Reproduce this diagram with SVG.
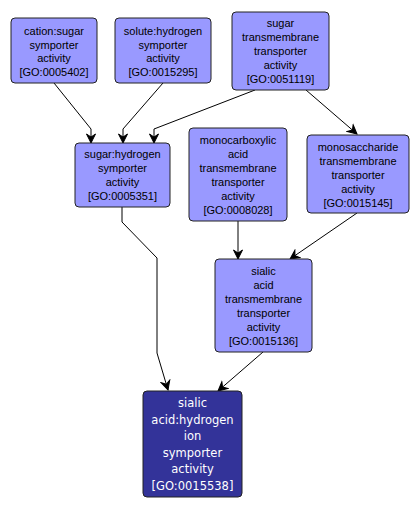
<svg xmlns="http://www.w3.org/2000/svg" width="419" height="509" viewBox="0 0 419 509">
<style>
.n rect{fill:#9999ff;stroke:#222;stroke-width:1}
.n text{font-family:"Liberation Sans",Arial,sans-serif;font-size:11px;fill:#000;text-anchor:middle}
.d rect{fill:#333399;stroke:#222;stroke-width:1}
.d text{font-family:"DejaVu Sans",sans-serif;font-size:11.5px;fill:#fff;text-anchor:middle}
.e path{fill:none;stroke:#000;stroke-width:1;marker-end:url(#a)}
</style>
<defs>
<marker id="a" markerUnits="userSpaceOnUse" markerWidth="12" markerHeight="12" viewBox="-10 -6 12 12" refX="0" refY="0" orient="auto">
<path d="M0,0 L-9,-4.5 L-6,0 L-9,4.5 Z" fill="#000" stroke="#000" stroke-width="1"/>
</marker>
</defs>
<rect width="419" height="509" fill="#fff"/>
<g id="connectors" class="e">
<path d="M54,83 L91,129 L91,143"/>
<path d="M163,83 L123,129 L123,143"/>
<path d="M255,90 L154,129 L154,143"/>
<path d="M306,90 L357,134"/>
<path d="M122,207 L122,222 L157,258 L157,353 L168,390"/>
<path d="M238,221 L238,259"/>
<path d="M357,213 L290,259"/>
<path d="M263,352 L218,391"/>
</g>
<g id="GO0005402" class="n">
<rect x="11" y="18" width="86" height="65" rx="4"/>
<text x="54" y="35">cation:sugar</text>
<text x="54" y="48.5">symporter</text>
<text x="54" y="62">activity</text>
<text x="54" y="76">[GO:0005402]</text>
</g>
<g id="GO0015295" class="n">
<rect x="115" y="18" width="96" height="65" rx="4"/>
<text x="163" y="35">solute:hydrogen</text>
<text x="163" y="48.5">symporter</text>
<text x="163" y="62">activity</text>
<text x="163" y="76">[GO:0015295]</text>
</g>
<g id="GO0051119" class="n">
<rect x="232" y="12" width="97" height="78" rx="4"/>
<text x="280.5" y="27">sugar</text>
<text x="280.5" y="41">transmembrane</text>
<text x="280.5" y="55">transporter</text>
<text x="280.5" y="69">activity</text>
<text x="280.5" y="83">[GO:0051119]</text>
</g>
<g id="GO0005351" class="n">
<rect x="75" y="143" width="95" height="64" rx="4"/>
<text x="122.5" y="158">sugar:hydrogen</text>
<text x="122.5" y="172">symporter</text>
<text x="122.5" y="186">activity</text>
<text x="122.5" y="200">[GO:0005351]</text>
</g>
<g id="GO0008028" class="n">
<rect x="189" y="128" width="98" height="93" rx="4"/>
<text x="238" y="144">monocarboxylic</text>
<text x="238" y="158">acid</text>
<text x="238" y="172">transmembrane</text>
<text x="238" y="186">transporter</text>
<text x="238" y="200">activity</text>
<text x="238" y="214">[GO:0008028]</text>
</g>
<g id="GO0015145" class="n">
<rect x="307" y="135" width="102" height="78" rx="4"/>
<text x="358" y="151">monosaccharide</text>
<text x="358" y="165">transmembrane</text>
<text x="358" y="179">transporter</text>
<text x="358" y="193">activity</text>
<text x="358" y="207">[GO:0015145]</text>
</g>
<g id="GO0015136" class="n">
<rect x="215" y="259" width="97" height="93" rx="4"/>
<text x="263.5" y="275">sialic</text>
<text x="263.5" y="289">acid</text>
<text x="263.5" y="303">transmembrane</text>
<text x="263.5" y="317">transporter</text>
<text x="263.5" y="331">activity</text>
<text x="263.5" y="345">[GO:0015136]</text>
</g>
<g id="GO0015538" class="d">
<rect x="143" y="391" width="99" height="106" rx="4"/>
<text x="192.5" y="407">sialic</text>
<text x="192.5" y="423.5">acid:hydrogen</text>
<text x="192.5" y="440">ion</text>
<text x="192.5" y="456.5">symporter</text>
<text x="192.5" y="473">activity</text>
<text x="192.5" y="489.5">[GO:0015538]</text>
</g>
</svg>
